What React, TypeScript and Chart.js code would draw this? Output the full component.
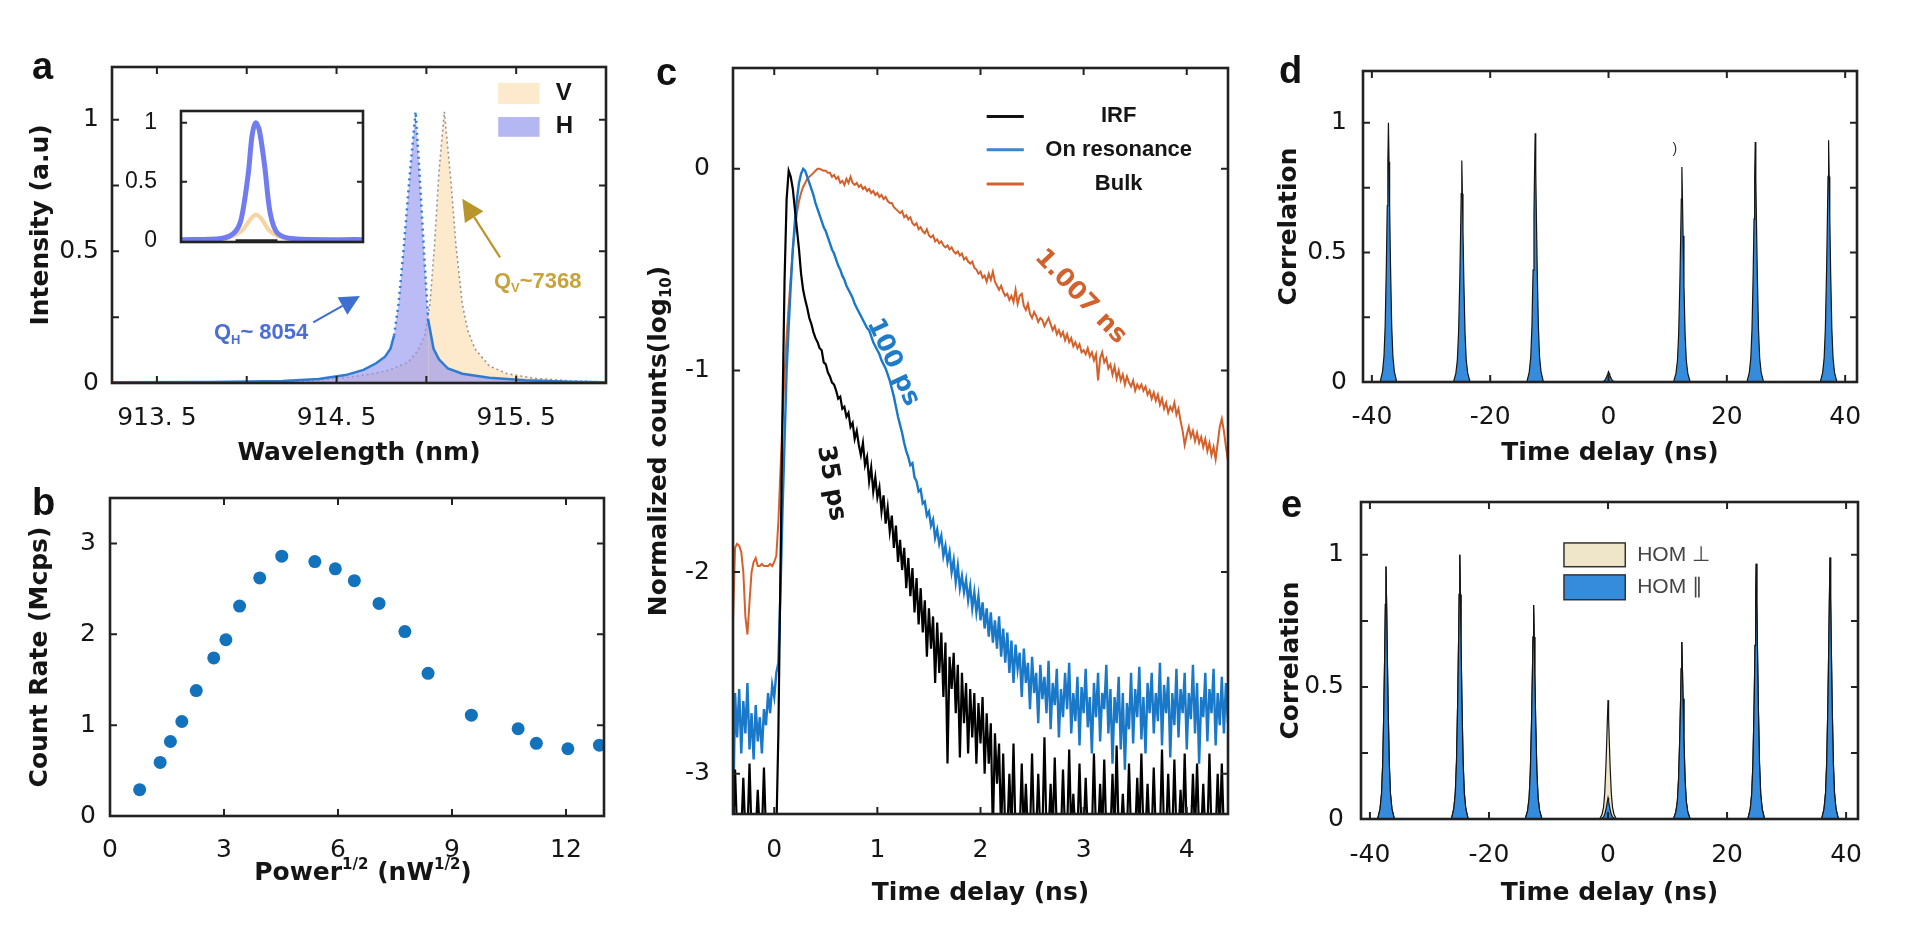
import React, { useEffect, useRef } from 'react';
import { Chart, registerables } from 'chart.js';
Chart.register(...registerables);

// ================= DATA =================
// Panel a: spectra
const A_H_WL = [913.25, 913.8, 914.2, 914.4, 914.55, 914.65, 914.72, 914.77, 914.8, 914.82, 914.845, 914.875, 914.905, 914.925, 914.94, 914.96, 914.985, 915.01, 915.04, 915.07, 915.12, 915.2, 915.35, 915.55, 915.8, 916.0];
const A_H_I = [0.003, 0.004, 0.008, 0.015, 0.03, 0.05, 0.075, 0.1, 0.13, 0.18, 0.3, 0.52, 0.77, 0.92, 1.03, 0.82, 0.52, 0.24, 0.13, 0.09, 0.055, 0.035, 0.02, 0.01, 0.005, 0.003];
const A_V_WL = [913.25, 914.3, 914.55, 914.7, 914.8, 914.9, 914.95, 914.99, 915.02, 915.045, 915.07, 915.1, 915.135, 915.165, 915.2, 915.23, 915.27, 915.35, 915.45, 915.6, 915.8, 916.0];
const A_V_I = [0, 0.005, 0.02, 0.035, 0.05, 0.08, 0.12, 0.18, 0.3, 0.52, 0.8, 1.03, 0.78, 0.52, 0.3, 0.2, 0.13, 0.065, 0.035, 0.018, 0.008, 0.004];
const A_X_TICKS = [913.5, 914, 914.5, 915, 915.5, 916];
const A_X_LABELS = ['913. 5', '', '914. 5', '', '915. 5', ''];
const A_Y_TICKS = [0, 0.25, 0.5, 0.75, 1];
const A_Y_LABELS = ['0', '', '0.5', '', '1'];
// Panel a inset
const IN_H_X = [0, 2.2, 2.9, 3.3, 3.7, 3.9, 4.1, 4.3, 4.6, 4.9, 5.3, 6.2, 10];
const IN_H_Y = [0.01, 0.02, 0.065, 0.18, 0.575, 0.887, 1.0, 0.94, 0.63, 0.235, 0.065, 0.017, 0.01];
const IN_V_X = [0, 2.2, 3.3, 3.8, 4.1, 4.4, 4.9, 5.8, 10];
const IN_V_Y = [0.005, 0.01, 0.08, 0.18, 0.22, 0.19, 0.08, 0.02, 0.005];
const IN_K_X = [3.0, 5.3];
const IN_K_Y = [0, 0];
const IN_Y_TICKS = [0, 0.5, 1];
const IN_Y_LABELS = ['0', '0.5', '1'];

// Panel b: count rate vs sqrt(power)
const B_X = [0.78, 1.32, 1.59, 1.89, 2.27, 2.73, 3.05, 3.41, 3.94, 4.52, 5.39, 5.93, 6.43, 7.08, 7.76, 8.37, 9.51, 10.74, 11.22, 12.05, 12.88];
const B_Y = [0.29, 0.59, 0.82, 1.04, 1.38, 1.74, 1.94, 2.31, 2.62, 2.86, 2.8, 2.72, 2.59, 2.34, 2.03, 1.57, 1.11, 0.96, 0.8, 0.74, 0.78];
const B_X_TICKS = [0, 3, 6, 9, 12];
const B_X_LABELS = ['0', '3', '6', '9', '12'];
const B_Y_TICKS = [0, 1, 2, 3];
const B_Y_LABELS = ['0', '1', '2', '3'];

// Panel c: TCSPC histograms, bins of 0.02 ns starting at -0.40 ns (log10 counts)
const C_T_START = -0.4;
const C_T_STEP = 0.02;
const C_IRF = [
  -3.3, -2.98, -3.3, -3.3, -3.3, -3.02, -3.3, -3.3, -2.95, -3.3, -3.3, -3.3, -3.08, -3.3, -3.3, -2.97, -3.3, -3.3, -3.3, -3.3,
  -3.3, -3.3, -2.8, -2.0, -1.2, -0.55, -0.15, -0.01, -0.04, -0.1,
  -0.2, -0.3, -0.4, -0.52, -0.6, -0.65, -0.69, -0.74, -0.77, -0.81,
  -0.84, -0.86, -0.89, -0.9, -0.96, -0.97, -1.01, -1.03, -1.06, -1.07,
  -1.1, -1.14, -1.13, -1.19, -1.18, -1.23, -1.21, -1.28, -1.26, -1.34,
  -1.3, -1.37, -1.42, -1.36, -1.47, -1.43, -1.55, -1.48, -1.6, -1.53,
  -1.63, -1.58, -1.7, -1.62, -1.76, -1.68, -1.8, -1.72, -1.88, -1.77,
  -1.95, -1.84, -1.99, -1.88, -2.08, -1.93, -2.12, -1.98, -2.2, -2.03,
  -2.26, -2.08, -2.3, -2.14, -2.42, -2.18, -2.38, -2.22, -2.55, -2.25,
  -2.5, -2.3, -2.62, -2.35, -2.95, -2.42, -2.58, -2.4, -2.7, -2.46,
  -2.92, -2.5, -2.75, -2.55, -2.9, -2.58, -2.82, -2.6, -2.95, -2.65,
  -2.85, -2.62, -3.0, -2.7, -2.95, -2.75, -3.3, -2.8, -3.05, -2.85,
  -3.3,
  -2.9, -3.3, -3.3, -3.0, -3.3, -2.85, -3.3, -3.3, -3.3, -2.95,
  -3.3, -3.05, -3.3, -3.3, -2.9, -3.3, -3.3, -3.0, -3.3, -3.3,
  -2.82, -3.3, -3.3, -3.05, -3.3, -2.92, -3.3, -3.3, -3.3, -2.98,
  -3.3, -3.3, -2.88, -3.3, -3.1, -3.3, -3.3, -2.95, -3.3, -3.3,
  -3.02, -3.3, -3.3, -3.3, -2.9, -3.3, -3.3, -3.05, -3.3, -2.93,
  -3.3, -3.3, -3.3, -3.0, -3.3, -2.86, -3.3, -3.3, -3.1, -3.3,
  -3.3, -2.95, -3.3, -3.3, -3.3, -3.02, -3.3, -2.9, -3.3, -3.3,
  -3.05, -3.3, -3.3, -2.97, -3.3, -3.3, -3.3, -2.88, -3.3, -3.3,
  -3.0, -3.3, -3.3, -2.93, -3.3, -3.3, -3.08, -3.3, -2.9, -3.3,
  -3.3, -3.3, -3.0, -3.3, -2.95, -3.3, -3.3, -3.05, -3.3, -3.3,
  -2.9, -3.3, -3.3, -3.3, -3.0, -3.3, -2.95, -3.3, -3.3, -3.3,
];
const C_ONRES = [
  -3.3, -2.6, -2.82, -2.58, -2.9, -2.64, -2.8, -2.55, -2.88, -2.7, -2.93, -2.66, -2.84, -2.72, -2.9, -2.68, -2.76, -2.6, -2.7, -2.56,
  -2.62, -2.5, -2.45, -2.1, -1.7, -1.35, -1.0, -0.78, -0.58, -0.4,
  -0.26, -0.15, -0.07, -0.025, 0, -0.01, -0.04, -0.07, -0.1, -0.13,
  -0.17, -0.2, -0.23, -0.26, -0.29, -0.31, -0.34, -0.37, -0.4, -0.42,
  -0.45, -0.48, -0.5, -0.53, -0.55, -0.58, -0.6, -0.62, -0.64, -0.67,
  -0.69, -0.71, -0.73, -0.75, -0.77, -0.79, -0.8, -0.83, -0.86, -0.88,
  -0.9, -0.92, -0.95, -0.97, -0.99, -1.02, -1.05, -1.09, -1.13, -1.18,
  -1.23, -1.27, -1.31, -1.36, -1.4, -1.43, -1.47, -1.46, -1.53, -1.55,
  -1.6, -1.59, -1.66, -1.65, -1.72, -1.7, -1.77, -1.74, -1.83, -1.79,
  -1.86, -1.82, -1.92, -1.87, -1.95, -1.9, -2.0, -1.94, -2.05, -1.97,
  -2.08, -2.02, -2.1, -2.04, -2.14, -2.07, -2.18, -2.1, -2.2, -2.12,
  -2.24, -2.15, -2.28, -2.18, -2.32, -2.2, -2.35, -2.24, -2.38, -2.22,
  -2.42, -2.28, -2.45, -2.3, -2.5, -2.34, -2.55, -2.36, -2.48, -2.4,
  -2.62, -2.38, -2.55, -2.45, -2.68, -2.42, -2.6, -2.5, -2.75, -2.46,
  -2.63, -2.52, -2.7, -2.44, -2.78, -2.55, -2.66, -2.48, -2.82, -2.58,
  -2.72, -2.5, -2.68, -2.45, -2.8, -2.6, -2.74, -2.52, -2.86, -2.57,
  -2.7, -2.48, -2.77, -2.62, -2.9, -2.55, -2.72, -2.5, -2.84, -2.6,
  -2.68, -2.46, -2.8, -2.58, -2.95, -2.62, -2.75, -2.52, -2.88, -2.6,
  -2.98, -2.65, -2.78, -2.5, -2.85, -2.58, -2.72, -2.47, -2.83, -2.62,
  -2.9, -2.55, -2.7, -2.5, -2.8, -2.6, -2.74, -2.45, -2.86, -2.56,
  -2.7, -2.52, -2.92, -2.6, -2.76, -2.48, -2.82, -2.58, -2.7, -2.5,
  -2.88, -2.6, -2.73, -2.46, -2.8, -2.55, -2.95, -2.62, -2.72, -2.5,
  -2.84, -2.58, -2.7, -2.48, -2.86, -2.6, -2.76, -2.52, -2.8, -2.55,
  -2.75,
];
const C_BULK = [
  -2.24, -1.88, -1.86, -1.87, -1.9, -2.0, -2.22, -2.31, -2.15, -2.0,
  -1.95, -1.93, -1.97, -1.97, -1.96, -1.97, -1.97, -1.97, -1.96, -1.97,
  -1.95, -1.92, -1.75, -1.5, -1.25, -1.02, -0.83, -0.68, -0.54, -0.4,
  -0.3, -0.22, -0.16, -0.12, -0.09, -0.07, -0.05, -0.04, -0.03, -0.02,
  -0.01, 0, 0, -0.005, -0.01, -0.01, -0.02, -0.02, -0.04, -0.03,
  -0.05, -0.04, -0.07, -0.06, -0.08, -0.05, -0.07, -0.04, -0.07, -0.08,
  -0.07, -0.09, -0.08, -0.1, -0.09, -0.11, -0.1, -0.12, -0.11, -0.13,
  -0.12, -0.14, -0.13, -0.15, -0.14, -0.16, -0.17, -0.17, -0.19, -0.2,
  -0.21, -0.22, -0.21, -0.24, -0.23, -0.25, -0.24, -0.27, -0.28, -0.27,
  -0.3, -0.29, -0.31, -0.32, -0.3, -0.33, -0.34, -0.33, -0.36, -0.35,
  -0.37, -0.36, -0.38, -0.39, -0.38, -0.4, -0.39, -0.41, -0.42, -0.41,
  -0.43, -0.42, -0.45, -0.44, -0.46, -0.47, -0.46, -0.49, -0.5, -0.52,
  -0.51, -0.54, -0.53, -0.56, -0.52, -0.55, -0.51, -0.56, -0.58, -0.6,
  -0.58, -0.61, -0.63, -0.62, -0.65, -0.63, -0.66, -0.6, -0.67, -0.63,
  -0.62, -0.68, -0.7, -0.67, -0.72, -0.74, -0.71, -0.73, -0.76, -0.74,
  -0.75, -0.78, -0.76, -0.74, -0.77, -0.8, -0.78, -0.82, -0.8, -0.83,
  -0.81, -0.85, -0.82, -0.86, -0.84, -0.88, -0.86, -0.89, -0.87, -0.91,
  -0.9, -0.92, -0.89, -0.93, -0.91, -0.95, -0.92, -1.05, -0.94, -0.91,
  -0.96, -0.94, -0.99, -0.97, -1.02, -0.98, -1.04, -1.0, -1.05, -1.02,
  -1.07, -1.03, -1.06, -1.08, -1.05, -1.1, -1.07, -1.09, -1.07, -1.1,
  -1.08, -1.12, -1.1, -1.14, -1.11, -1.15, -1.12, -1.17, -1.14, -1.19,
  -1.16, -1.21, -1.18, -1.2, -1.16, -1.22, -1.19, -1.25, -1.3, -1.37,
  -1.32, -1.28, -1.33, -1.3, -1.35, -1.31, -1.36, -1.33, -1.38, -1.34,
  -1.4, -1.36, -1.42, -1.38, -1.44, -1.36, -1.28, -1.24, -1.3, -1.38,
  -1.45,
];
const C_X_TICKS = [0, 1, 2, 3, 4];
const C_X_LABELS = ['0', '1', '2', '3', '4'];
const C_Y_TICKS = [-3, -2, -1, 0];
const C_Y_LABELS = ['-3', '-2', '-1', '0'];
const C_LEGEND = ['IRF', 'On resonance', 'Bulk'];

// Panels d, e: correlation peaks
const PEAK_DX = [-1.4, -1.0, -0.75, -0.55, -0.35, -0.2, -0.1, 0, 0.1, 0.2, 0.35, 0.55, 0.75, 1.0, 1.4];
const PEAK_SHAPE = [0, 0.04, 0.1, 0.22, 0.45, 0.68, 0.85, 1, 0.85, 0.68, 0.45, 0.22, 0.1, 0.04, 0];
const D_CENTERS = [-37.2, -24.8, -12.4, 0, 12.4, 24.8, 37.2];
const D_HEIGHTS = [1.0, 0.855, 0.96, 0.04, 0.83, 0.926, 0.933];
const E_CENTERS = [-37.3, -24.9, -12.5, 0, 12.4, 24.9, 37.3];
const E_PAR_HEIGHTS = [0.956, 1.0, 0.81, 0.08, 0.67, 0.966, 0.99];
const E_PERP_HEIGHTS = [0.956, 1.0, 0.81, 0.45, 0.67, 0.966, 0.99];
const DE_X_TICKS = [-40, -20, 0, 20, 40];
const DE_X_LABELS = ['-40', '-20', '0', '20', '40'];
const DE_Y_TICKS = [0, 0.25, 0.5, 0.75, 1];
const DE_Y_LABELS = ['0', '', '0.5', '', '1'];
const E_LEGEND = ['HOM \u22A5', 'HOM \u2225'];

// ================= LAYOUT / STYLE =================
const FAM = "'DejaVu Sans', 'Liberation Sans', sans-serif";
const ARIAL = "'Liberation Sans', Arial, sans-serif";
const TICK_FONT = { family: FAM, size: 25 };
const TITLE_FONT = { family: FAM, size: 25, weight: 'bold' };
const INK = '#151515';

const GEO_A = { L: 0, T: 40, W: 640, H: 440, x0: 112, y0: 67, x1: 606, y1: 383 };
const GEO_IN = { L: 110, T: 100, W: 260, H: 150, x0: 181, y0: 111, x1: 363, y1: 242 };
const GEO_B = { L: 0, T: 470, W: 640, H: 440, x0: 110, y0: 498, x1: 604, y1: 816 };
const GEO_C = { L: 640, T: 40, W: 600, H: 880, x0: 733, y0: 68, x1: 1228, y1: 814 };
const GEO_D = { L: 1260, T: 40, W: 640, H: 440, x0: 1363, y0: 71, x1: 1857, y1: 382 };
const GEO_E = { L: 1260, T: 470, W: 640, H: 450, x0: 1361, y0: 502, x1: 1858, y1: 819 };

const LETTERS = [
  { t: 'a', x: 32, base: 79 },
  { t: 'b', x: 32, base: 515 },
  { t: 'c', x: 656, base: 85 },
  { t: 'd', x: 1279, base: 83 },
  { t: 'e', x: 1281, base: 517 },
];

const zip = (xs: number[], ys: number[]) => xs.map((x, i) => ({ x, y: ys[i] }));
const binned = (ys: number[]) => ys.map((y, i) => ({ x: Math.round((C_T_START + i * C_T_STEP) * 100) / 100, y }));
function peaks(centers: number[], heights: number[], xmin: number, xmax: number) {
  const pts = [{ x: xmin, y: 0 }];
  centers.forEach((c, i) => PEAK_DX.forEach((d, j) => pts.push({ x: c + d, y: heights[i] * PEAK_SHAPE[j] })));
  pts.push({ x: xmax, y: 0 });
  return pts;
}

// ================= PLUGINS =================
const framePlugin = {
  id: 'frame',
  beforeDatasetsDraw(chart: any, _a: any, o: any) {
    if (!o.bg) return;
    const a = chart.chartArea, ctx = chart.ctx;
    ctx.save(); ctx.fillStyle = '#fff'; ctx.fillRect(a.left, a.top, a.right - a.left, a.bottom - a.top); ctx.restore();
  },
  afterDatasetsDraw(chart: any, _a: any, o: any) {
    const { ctx, chartArea: a, scales } = chart;
    const len = o.tick ?? 7;
    ctx.save();
    ctx.strokeStyle = o.color || '#222';
    ctx.lineWidth = o.tickWidth ?? 2;
    const xs = scales.x, ys = scales.y;
    ctx.beginPath();
    (xs.ticks || []).forEach((t: any) => {
      const p = xs.getPixelForValue(t.value);
      if (p <= a.left + 2 || p >= a.right - 2) return;
      ctx.moveTo(p, a.bottom); ctx.lineTo(p, a.bottom - len);
      ctx.moveTo(p, a.top); ctx.lineTo(p, a.top + len);
    });
    (ys.ticks || []).forEach((t: any) => {
      const p = ys.getPixelForValue(t.value);
      if (p <= a.top + 2 || p >= a.bottom - 2) return;
      ctx.moveTo(a.left, p); ctx.lineTo(a.left + len, p);
      ctx.moveTo(a.right, p); ctx.lineTo(a.right - len, p);
    });
    ctx.stroke();
    ctx.lineWidth = o.width ?? 2.6;
    ctx.strokeRect(a.left, a.top, a.right - a.left, a.bottom - a.top);
    ctx.restore();
  },
};

function drawRich(ctx: any, parts: any[], x: number, y: number, size: number, weight: string, family: string, color: string, align: string, rot: number) {
  ctx.save();
  ctx.translate(x, y);
  if (rot) ctx.rotate((rot * Math.PI) / 180);
  ctx.fillStyle = color;
  ctx.textBaseline = 'middle';
  ctx.textAlign = 'left';
  const fnt = (s: any) => `${weight} ${s ? Math.round(size * 0.6) : size}px ${family}`;
  let total = 0;
  const ws = parts.map((p) => { ctx.font = fnt(p.s); const w = ctx.measureText(p.t).width; total += w; return w; });
  let cx = align === 'center' ? -total / 2 : align === 'right' ? -total : 0;
  parts.forEach((p, i) => {
    ctx.font = fnt(p.s);
    const dy = p.s === 'sub' ? size * 0.32 : p.s === 'sup' ? -size * 0.32 : 0;
    ctx.fillText(p.t, cx, dy);
    cx += ws[i];
  });
  ctx.restore();
}

const decoPlugin = {
  id: 'deco',
  afterDraw(chart: any, _a: any, o: any) {
    const { ctx, scales } = chart;
    const X = (v: number, px?: boolean) => (px ? v : scales.x.getPixelForValue(v));
    const Y = (v: number, px?: boolean) => (px ? v : scales.y.getPixelForValue(v));
    (o.items || []).forEach((it: any) => {
      ctx.save();
      if (it.kind === 'rich') {
        drawRich(ctx, it.parts, X(it.x, it.px), Y(it.y, it.px), it.size, it.weight || 'normal', it.family || FAM, it.color || INK, it.align || 'center', it.rot || 0);
      } else if (it.kind === 'line') {
        ctx.strokeStyle = it.color; ctx.lineWidth = it.width || 2;
        ctx.beginPath(); ctx.moveTo(X(it.x0), Y(it.y0)); ctx.lineTo(X(it.x1), Y(it.y1)); ctx.stroke();
      } else if (it.kind === 'arrow') {
        const x0 = X(it.x0), y0 = Y(it.y0), x1 = X(it.x1), y1 = Y(it.y1);
        const ang = Math.atan2(y1 - y0, x1 - x0);
        const hl = it.head || 18, hw = it.hw || 9;
        const bx = x1 - hl * Math.cos(ang), by = y1 - hl * Math.sin(ang);
        ctx.strokeStyle = it.color; ctx.fillStyle = it.color; ctx.lineWidth = it.width || 2;
        ctx.beginPath(); ctx.moveTo(x0, y0); ctx.lineTo(bx, by); ctx.stroke();
        ctx.beginPath();
        ctx.moveTo(x1, y1);
        ctx.lineTo(bx + hw * Math.sin(ang), by - hw * Math.cos(ang));
        ctx.lineTo(bx - hw * Math.sin(ang), by + hw * Math.cos(ang));
        ctx.closePath(); ctx.fill();
      } else if (it.kind === 'rect') {
        const x0 = X(it.x0), y0 = Y(it.y0), x1 = X(it.x1), y1 = Y(it.y1);
        ctx.fillStyle = it.fill; ctx.fillRect(x0, y0, x1 - x0, y1 - y0);
        if (it.stroke) { ctx.strokeStyle = it.stroke; ctx.lineWidth = it.sw || 1.5; ctx.strokeRect(x0, y0, x1 - x0, y1 - y0); }
      }
      ctx.restore();
    });
  },
};

// ================= SCALE / OPTION BUILDERS =================
function scaleX(g: any, s: any) {
  return {
    type: 'linear', bounds: 'data', min: s.min, max: s.max,
    afterBuildTicks: (sc: any) => { sc.ticks = s.ticks.map((v: number) => ({ value: v })); },
    afterFit: (sc: any) => { sc.height = g.T + g.H - g.y1; sc.paddingLeft = 0; sc.paddingRight = 0; },
    ticks: { display: !s.hide, autoSkip: false, maxRotation: 0, minRotation: 0, padding: s.pad ?? 20, font: s.font || TICK_FONT, color: INK, callback: (_v: any, i: number) => s.labels[i] },
    grid: { display: false, drawTicks: false },
    border: { display: false },
    title: s.title ? { display: true, text: s.title, font: TITLE_FONT, color: INK, padding: { top: 0, bottom: s.titlePad ?? 12 } } : { display: false },
  };
}
function scaleY(g: any, s: any) {
  return {
    type: 'linear', bounds: 'data', min: s.min, max: s.max,
    afterBuildTicks: (sc: any) => { sc.ticks = s.ticks.map((v: number) => ({ value: v })); },
    afterFit: (sc: any) => { sc.width = g.x0 - g.L; sc.paddingTop = 0; sc.paddingBottom = 0; },
    ticks: { display: !s.hide, autoSkip: false, padding: s.pad ?? 14, font: s.font || TICK_FONT, color: INK, callback: (_v: any, i: number) => s.labels[i] },
    grid: { display: false, drawTicks: false },
    border: { display: false },
    title: s.title ? { display: true, text: s.title, font: TITLE_FONT, color: INK, padding: { top: s.titlePad ?? 10, bottom: 0 } } : { display: false },
  };
}
function opts(g: any, xs: any, ys: any, plugins: any) {
  return {
    responsive: false, animation: false, devicePixelRatio: 1, events: [],
    layout: { padding: { top: g.y0 - g.T, right: g.L + g.W - g.x1, left: 0, bottom: 0 } },
    plugins: { legend: { display: false }, tooltip: { enabled: false }, ...plugins },
    scales: { x: scaleX(g, xs), y: scaleY(g, ys) },
  };
}

// ================= CHART CONFIGS =================
function configA() {
  const items = [
    { kind: 'rich', x: 914.08, y: 0.19, size: 22, weight: 'bold', family: ARIAL, color: '#4a6ed6', parts: [{ t: 'Q' }, { t: 'H', s: 'sub' }, { t: '~ 8054' }] },
    { kind: 'arrow', x0: 914.37, y0: 0.23, x1: 914.63, y1: 0.33, color: '#3d6ed2', width: 2, head: 20, hw: 10 },
    { kind: 'rich', x: 915.62, y: 0.385, size: 22, weight: 'bold', family: ARIAL, color: '#c9a33a', parts: [{ t: 'Q' }, { t: 'V', s: 'sub' }, { t: '~7368' }] },
    { kind: 'arrow', x0: 915.41, y0: 0.477, x1: 915.2, y1: 0.7, color: '#b8962c', width: 2.2, head: 22, hw: 11 },
    { kind: 'rect', x0: 915.4, y0: 1.14, x1: 915.63, y1: 1.06, fill: '#fde9cb' },
    { kind: 'rect', x0: 915.4, y0: 1.01, x1: 915.63, y1: 0.935, fill: '#b5b7f3' },
    { kind: 'rich', x: 915.72, y: 1.1, size: 24, weight: 'bold', family: ARIAL, color: INK, align: 'left', parts: [{ t: 'V' }] },
    { kind: 'rich', x: 915.72, y: 0.975, size: 24, weight: 'bold', family: ARIAL, color: INK, align: 'left', parts: [{ t: 'H' }] },
  ];
  return {
    type: 'line',
    data: {
      datasets: [
        {
          data: zip(A_H_WL, A_H_I), fill: 'origin', backgroundColor: 'rgba(150,150,240,0.65)', borderColor: '#2e7bd2', borderWidth: 2.5, pointRadius: 0, tension: 0,
          segment: { borderDash: (c: any) => (c.p0.parsed.y > 0.14 && c.p1.parsed.y > 0.14 ? [2, 4] : undefined) },
        },
        { data: zip(A_V_WL, A_V_I), fill: 'origin', backgroundColor: '#fde9cb', borderColor: '#9b9393', borderWidth: 1.6, borderDash: [2, 3], pointRadius: 0, tension: 0 },
      ],
    },
    options: opts(
      GEO_A,
      { min: 913.25, max: 916, ticks: A_X_TICKS, labels: A_X_LABELS, pad: 20, title: 'Wavelength (nm)', titlePad: 12 },
      { min: 0, max: 1.2, ticks: A_Y_TICKS, labels: A_Y_LABELS, pad: 13, title: 'Intensity (a.u)', titlePad: 26 },
      { frame: {}, deco: { items } }
    ),
    plugins: [framePlugin, decoPlugin],
  };
}

function configInset() {
  return {
    type: 'line',
    data: {
      datasets: [
        { data: zip(IN_K_X, IN_K_Y), borderColor: '#222', borderWidth: 3, pointRadius: 0 },
        { data: zip(IN_H_X, IN_H_Y), borderColor: '#717cf0', borderWidth: 5, pointRadius: 0, tension: 0.3 },
        { data: zip(IN_V_X, IN_V_Y), borderColor: '#f6d39f', borderWidth: 4, pointRadius: 0, tension: 0.3 },
      ],
    },
    options: opts(
      GEO_IN,
      { min: 0, max: 10, ticks: [], labels: [], hide: true },
      { min: -0.01, max: 1.1, ticks: IN_Y_TICKS, labels: IN_Y_LABELS, pad: 24, font: { family: ARIAL, size: 23 } },
      { frame: { bg: true, tick: 6 } }
    ),
    plugins: [framePlugin],
  };
}

function configB() {
  const items = [
    { kind: 'rich', px: true, x: (GEO_B.x0 + GEO_B.x1) / 2 + 6 - GEO_B.L, y: 873 - GEO_B.T, size: 25, weight: 'bold', family: FAM, color: INK, parts: [{ t: 'Power' }, { t: '1/2', s: 'sup' }, { t: ' (nW' }, { t: '1/2', s: 'sup' }, { t: ')' }] },
  ];
  return {
    type: 'scatter',
    data: { datasets: [{ data: zip(B_X, B_Y), backgroundColor: '#1272bb', borderColor: '#1272bb', pointRadius: 6.5, borderWidth: 0 }] },
    options: opts(
      GEO_B,
      { min: 0, max: 13, ticks: B_X_TICKS, labels: B_X_LABELS, pad: 19 },
      { min: 0, max: 3.5, ticks: B_Y_TICKS, labels: B_Y_LABELS, pad: 14, title: 'Count Rate (Mcps)', titlePad: 25 },
      { frame: {}, deco: { items } }
    ),
    plugins: [framePlugin, decoPlugin],
  };
}

function configC() {
  const LF = "'Liberation Sans', Arial, sans-serif";
  const items = [
    { kind: 'rich', px: true, x: 659.5 - GEO_C.L, y: (GEO_C.y0 + GEO_C.y1) / 2 - GEO_C.T, rot: -90, size: 25, weight: 'bold', family: FAM, color: INK, parts: [{ t: 'Normalized counts(log' }, { t: '10', s: 'sub' }, { t: ')' }] },
    { kind: 'rich', x: 2.97, y: -0.635, rot: 46, size: 25, weight: 'bold', family: FAM, color: '#d2622d', parts: [{ t: '1.007 ns' }] },
    { kind: 'rich', x: 1.15, y: -0.96, rot: 65, size: 25, weight: 'bold', family: FAM, color: '#1f7cc8', parts: [{ t: '100 ps' }] },
    { kind: 'rich', x: 0.55, y: -1.56, rot: 80, size: 25, weight: 'bold', family: FAM, color: INK, parts: [{ t: '35 ps' }] },
    { kind: 'line', x0: 2.06, y0: 0.26, x1: 2.42, y1: 0.26, color: '#111', width: 3 },
    { kind: 'line', x0: 2.06, y0: 0.095, x1: 2.42, y1: 0.095, color: '#3a86d0', width: 3 },
    { kind: 'line', x0: 2.06, y0: -0.075, x1: 2.42, y1: -0.075, color: '#d2622d', width: 3 },
    { kind: 'rich', x: 3.34, y: 0.26, size: 22, weight: 'bold', family: LF, color: INK, parts: [{ t: C_LEGEND[0] }] },
    { kind: 'rich', x: 3.34, y: 0.095, size: 22, weight: 'bold', family: LF, color: INK, parts: [{ t: C_LEGEND[1] }] },
    { kind: 'rich', x: 3.34, y: -0.075, size: 22, weight: 'bold', family: LF, color: INK, parts: [{ t: C_LEGEND[2] }] },
  ];
  return {
    type: 'line',
    data: {
      datasets: [
        { label: C_LEGEND[0], data: binned(C_IRF), borderColor: '#000', borderWidth: 2.2, pointRadius: 0, tension: 0 },
        { label: C_LEGEND[1], data: binned(C_ONRES), borderColor: '#1a78c8', borderWidth: 2.4, pointRadius: 0, tension: 0 },
        { label: C_LEGEND[2], data: binned(C_BULK), borderColor: '#d4612b', borderWidth: 2, pointRadius: 0, tension: 0 },
      ],
    },
    options: opts(
      GEO_C,
      { min: -0.4, max: 4.4, ticks: C_X_TICKS, labels: C_X_LABELS, pad: 21, title: 'Time delay (ns)', titlePad: 12 },
      { min: -3.2, max: 0.5, ticks: C_Y_TICKS, labels: C_Y_LABELS, pad: 23 },
      { frame: {}, deco: { items } }
    ),
    plugins: [framePlugin, decoPlugin],
  };
}

function configD() {
  const items = [{ kind: 'rich', x: 11.2, y: 0.9, size: 14, weight: 'normal', family: ARIAL, color: '#333', parts: [{ t: ')' }] }];
  return {
    type: 'line',
    data: { datasets: [{ data: peaks(D_CENTERS, D_HEIGHTS, -41.5, 42), fill: 'origin', backgroundColor: '#358cdc', borderColor: '#141414', borderWidth: 1.2, pointRadius: 0, tension: 0 }] },
    options: opts(
      GEO_D,
      { min: -41.5, max: 42, ticks: DE_X_TICKS, labels: DE_X_LABELS, pad: 20, title: 'Time delay (ns)', titlePad: 12 },
      { min: 0, max: 1.2, ticks: DE_Y_TICKS, labels: DE_Y_LABELS, pad: 16, title: 'Correlation', titlePad: 14.5 },
      { frame: {}, deco: { items } }
    ),
    plugins: [framePlugin, decoPlugin],
  };
}

function configE() {
  const items = [
    { kind: 'rect', x0: -7.4, y0: 1.045, x1: 2.9, y1: 0.955, fill: '#efe5c8', stroke: '#333', sw: 1.5 },
    { kind: 'rect', x0: -7.4, y0: 0.924, x1: 2.9, y1: 0.83, fill: '#358cdc', stroke: '#333', sw: 1.5 },
    { kind: 'rich', x: 4.9, y: 1.0, size: 21, weight: 'normal', family: ARIAL, color: '#444', align: 'left', parts: [{ t: E_LEGEND[0] }] },
    { kind: 'rich', x: 4.9, y: 0.877, size: 21, weight: 'normal', family: ARIAL, color: '#444', align: 'left', parts: [{ t: E_LEGEND[1] }] },
  ];
  return {
    type: 'line',
    data: {
      datasets: [
        { label: E_LEGEND[1], data: peaks(E_CENTERS, E_PAR_HEIGHTS, -41.5, 42), fill: 'origin', backgroundColor: '#358cdc', borderColor: '#141414', borderWidth: 1.2, pointRadius: 0, tension: 0 },
        { label: E_LEGEND[0], data: peaks(E_CENTERS, E_PERP_HEIGHTS, -41.5, 42), fill: 'origin', backgroundColor: '#efe5c8', borderColor: '#141414', borderWidth: 1.2, pointRadius: 0, tension: 0 },
      ],
    },
    options: opts(
      GEO_E,
      { min: -41.5, max: 42, ticks: DE_X_TICKS, labels: DE_X_LABELS, pad: 21, title: 'Time delay (ns)', titlePad: 12 },
      { min: 0, max: 1.2, ticks: DE_Y_TICKS, labels: DE_Y_LABELS, pad: 17, title: 'Correlation', titlePad: 16.5 },
      { frame: {}, deco: { items } }
    ),
    plugins: [framePlugin, decoPlugin],
  };
}

// ================= COMPONENTS =================
function ChartCanvas({ geo, make }: { geo: any; make: () => any }) {
  const ref = useRef<HTMLCanvasElement | null>(null);
  useEffect(() => {
    const chart = new Chart(ref.current as HTMLCanvasElement, make());
    return () => chart.destroy();
  }, []);
  return (
    <canvas ref={ref} width={geo.W} height={geo.H}
      style={{ position: 'absolute', left: geo.L, top: geo.T, width: geo.W, height: geo.H }} />
  );
}

export default function App() {
  useEffect(() => {
    document.body.style.margin = '0';
    document.body.style.background = '#fff';
  }, []);
  return (
    <div style={{ position: 'relative', width: 1920, height: 931, background: '#fff', overflow: 'hidden' }}>
      <ChartCanvas geo={GEO_A} make={configA} />
      <ChartCanvas geo={GEO_IN} make={configInset} />
      <ChartCanvas geo={GEO_B} make={configB} />
      <ChartCanvas geo={GEO_C} make={configC} />
      <ChartCanvas geo={GEO_D} make={configD} />
      <ChartCanvas geo={GEO_E} make={configE} />
      {LETTERS.map((l) => (
        <div key={l.t} style={{ position: 'absolute', left: l.x, top: l.base - 32, font: `bold 38px ${ARIAL}`, lineHeight: '38px', color: '#111' }}>{l.t}</div>
      ))}
    </div>
  );
}
